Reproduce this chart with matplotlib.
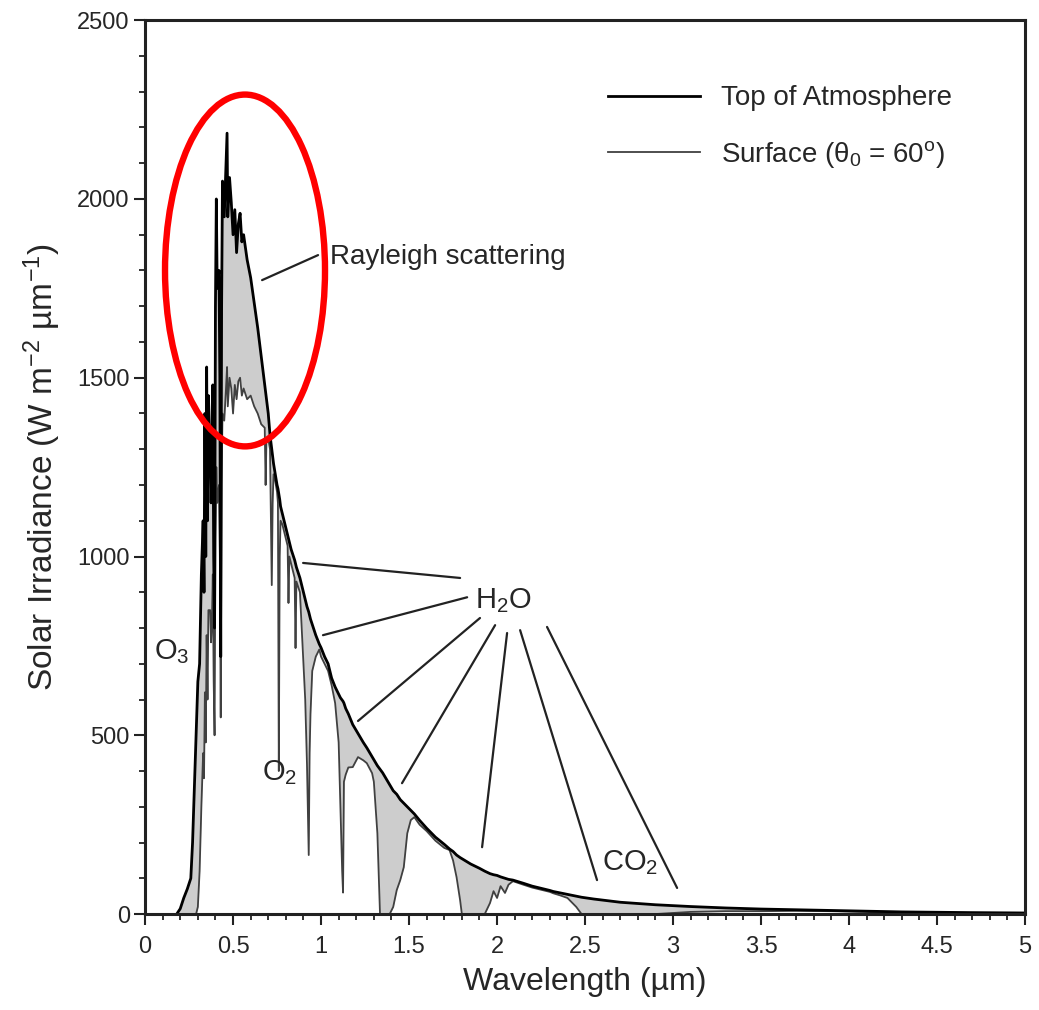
import numpy as np
import matplotlib.pyplot as plt
from matplotlib.patches import Ellipse
from matplotlib.ticker import MultipleLocator

plt.rcParams['font.family'] = ['Liberation Sans', 'DejaVu Sans']
plt.rcParams['mathtext.fontset'] = 'custom'
plt.rcParams['mathtext.rm'] = 'Liberation Sans'
plt.rcParams['mathtext.it'] = 'Liberation Sans:italic'
plt.rcParams['mathtext.bf'] = 'Liberation Sans:bold'

# wavelength grid (um)
wavelength = [0.18, 0.20, 0.22, 0.24, 0.26, 0.27, 0.28, 0.29, 0.30, 0.31,
              0.32, 0.33, 0.335, 0.34, 0.345, 0.35, 0.355, 0.36, 0.37, 0.375,
              0.38, 0.385, 0.39, 0.395, 0.40, 0.405, 0.41, 0.42, 0.425, 0.43,
              0.435, 0.44, 0.45, 0.46, 0.466, 0.47, 0.48, 0.49, 0.50, 0.51,
              0.52, 0.53, 0.54, 0.55, 0.56, 0.58, 0.60, 0.62, 0.64, 0.66,
              0.68, 0.685, 0.69, 0.70, 0.71, 0.72, 0.725, 0.73, 0.74, 0.75,
              0.755, 0.76, 0.765, 0.77, 0.78, 0.80, 0.81, 0.815, 0.82, 0.83,
              0.84, 0.85, 0.855, 0.86, 0.88, 0.90, 0.91, 0.92, 0.93, 0.935,
              0.94, 0.95, 0.97, 0.99, 1.00, 1.02, 1.04, 1.06, 1.08, 1.10,
              1.11, 1.12, 1.125, 1.13, 1.14, 1.155, 1.18, 1.21, 1.24, 1.26,
              1.29, 1.30, 1.32, 1.335, 1.35, 1.38, 1.39, 1.41, 1.43, 1.45,
              1.47, 1.49, 1.51, 1.53, 1.56, 1.60, 1.65, 1.70, 1.73, 1.75,
              1.77, 1.79, 1.80, 1.85, 1.90, 1.93, 1.96, 1.98, 2.00, 2.02,
              2.045, 2.065, 2.09, 2.15, 2.20, 2.25, 2.30, 2.32, 2.36, 2.40,
              2.45, 2.48, 2.55, 2.70, 2.90, 3.10, 3.30, 3.50, 3.70, 3.90,
              4.10, 4.20, 4.30, 4.50, 4.70, 5.00]

# top of atmosphere irradiance (W m-2 um-1)
toa = [0, 15, 45, 70, 100, 200, 350, 500, 650, 700,
       950, 1100, 900, 1400, 1000, 1530, 1100, 1450, 1300, 1150,
       1250, 1480, 1000, 800, 1700, 2000, 1750, 1800, 1500, 720,
       1700, 2050, 1950, 2100, 2184, 1950, 2060, 1990, 1900, 1970,
       1850, 1930, 1960, 1880, 1900, 1830, 1780, 1710, 1640, 1560,
       1480, 1460, 1440, 1400, 1340, 1300, 1280, 1260, 1230, 1200,
       1190, 1175, 1160, 1140, 1120, 1080, 1060, 1050, 1040, 1020,
       1005, 990, 980, 970, 940, 900, 880, 860, 845, 835,
       825, 810, 780, 755, 745, 720, 700, 660, 635, 615,
       605, 598, 595, 590, 575, 560, 530, 505, 480, 465,
       440, 432, 415, 405, 395, 370, 362, 345, 335, 320,
       310, 300, 290, 280, 262, 240, 215, 195, 182, 175,
       165, 158, 155, 140, 128, 120, 113, 110, 108, 104,
       100, 97, 95, 86, 78, 72, 66, 63, 59, 55,
       50, 47, 42, 33, 26, 21, 17, 14, 12, 10,
       8, 7, 6, 5, 4, 3]

# surface irradiance, solar zenith 60 deg
surface = [0, 0, 0, 0, 0, 0, 0, 0, 20, 120,
           300, 450, 380, 620, 480, 780, 600, 850, 850, 760,
           820, 950, 650, 500, 1050, 1250, 1150, 1200, 1000, 550,
           1200, 1400, 1380, 1470, 1530, 1420, 1500, 1470, 1400, 1480,
           1440, 1490, 1500, 1450, 1470, 1440, 1450, 1420, 1400, 1370,
           1360, 1200, 1330, 1330, 1300, 920, 1150, 1230, 1210, 1180,
           1150, 400, 1000, 1100, 1090, 1050, 1030, 870, 1000, 980,
           960, 940, 744, 930, 900, 700, 600, 420, 165, 450,
           560, 680, 720, 740, 720, 700, 680, 640, 590, 480,
           300, 120, 60, 370, 390, 410, 411, 439, 430, 422,
           394, 370, 226, 0, 0, 0, 0, 20, 67, 95,
           131, 226, 263, 271, 250, 232, 205, 185, 179, 150,
           103, 39, 0, 0, 0, 0, 31, 64, 45, 78,
           59, 82, 92, 82, 74, 68, 62, 58, 52, 45,
           20, 0, 0, 0, 0, 6, 8, 8, 9, 8,
           6, 3, 0, 3, 3, 2]

x_ticks = [0, 0.5, 1, 1.5, 2, 2.5, 3, 3.5, 4, 4.5, 5]
x_tick_labels = ['0', '0.5', '1', '1.5', '2', '2.5', '3', '3.5', '4', '4.5', '5']
y_ticks = [0, 500, 1000, 1500, 2000, 2500]

# leader lines for the H2O label: (point on curve, point near label)
h2o_leaders = [((0.898, 982), (1.790, 940)),
               ((1.011, 780), (1.830, 886)),
               ((1.210, 540), (1.903, 828)),
               ((1.460, 366), (1.989, 808)),
               ((1.915, 187), (2.057, 786)),
               ((2.568, 95), (2.131, 794)),
               ((3.023, 73), (2.284, 803))]

txt = '#262626'

fig = plt.figure(figsize=(10.39, 10.10), dpi=100)
ax = fig.add_axes([0.1396, 0.095, 0.847, 0.885])

ax.fill_between(wavelength, surface, toa, color='#cdcdcd', lw=0)
l_sfc, = ax.plot(wavelength, surface, color='#404040', lw=1.3)
l_toa, = ax.plot(wavelength, toa, color='black', lw=2.0)

ax.legend([l_toa, l_sfc], ['Top of Atmosphere', r'Surface ($\mathrm{\theta}_0$ = 60$^{\mathrm{o}}$)'],
          loc='upper left', bbox_to_anchor=(0.498, 0.955), frameon=False,
          fontsize=20, handlelength=3.3, handletextpad=0.75, labelspacing=1.0,
          labelcolor=txt)

# labels on the curve
ax.text(1.05, 1837, 'Rayleigh scattering', fontsize=20, color=txt, va='center')
ax.annotate('', xy=(0.665, 1773), xytext=(0.983, 1843),
            arrowprops=dict(arrowstyle='-', lw=1.6, color='#222222', shrinkA=0, shrinkB=0))
ax.text(2.034, 878, r'H$_2$O', fontsize=21, color=txt, ha='center', va='center')
for (x0, y0), (x1, y1) in h2o_leaders:
    ax.annotate('', xy=(x0, y0), xytext=(x1, y1),
                arrowprops=dict(arrowstyle='-', lw=1.6, color='#222222', shrinkA=0, shrinkB=0))
ax.text(0.153, 733, r'O$_3$', fontsize=21, color=txt, ha='center', va='center')
ax.text(0.767, 397, r'O$_2$', fontsize=21, color=txt, ha='center', va='center')
ax.text(2.756, 145, r'CO$_2$', fontsize=21, color=txt, ha='center', va='center')

ax.add_patch(Ellipse((0.568, 1800), 0.909, 984, fill=False, ec='#ff0000', lw=4.6, zorder=5))

ax.set_xlim(0, 5)
ax.set_ylim(0, 2500)
ax.set_xticks(x_ticks)
ax.set_xticklabels(x_tick_labels)
ax.set_yticks(y_ticks)
ax.xaxis.set_minor_locator(MultipleLocator(0.1))
ax.yaxis.set_minor_locator(MultipleLocator(100))
ax.tick_params(which='major', direction='out', length=8, width=1.5, labelsize=17,
               colors='#222222', labelcolor=txt, pad=3)
ax.tick_params(which='minor', direction='out', length=4, width=1.3, colors='#222222')
ax.tick_params(axis='x', which='major', pad=8)
for s in ax.spines.values():
    s.set_linewidth(2.2)
    s.set_color('#222222')

ax.set_xlabel('Wavelength (µm)', fontsize=23, color=txt, labelpad=6)
ax.set_ylabel(r'Solar Irradiance (W m$^{-2}$ µm$^{-1}$)', fontsize=24, color=txt, labelpad=10)

fig.savefig('out.png', dpi=100)
